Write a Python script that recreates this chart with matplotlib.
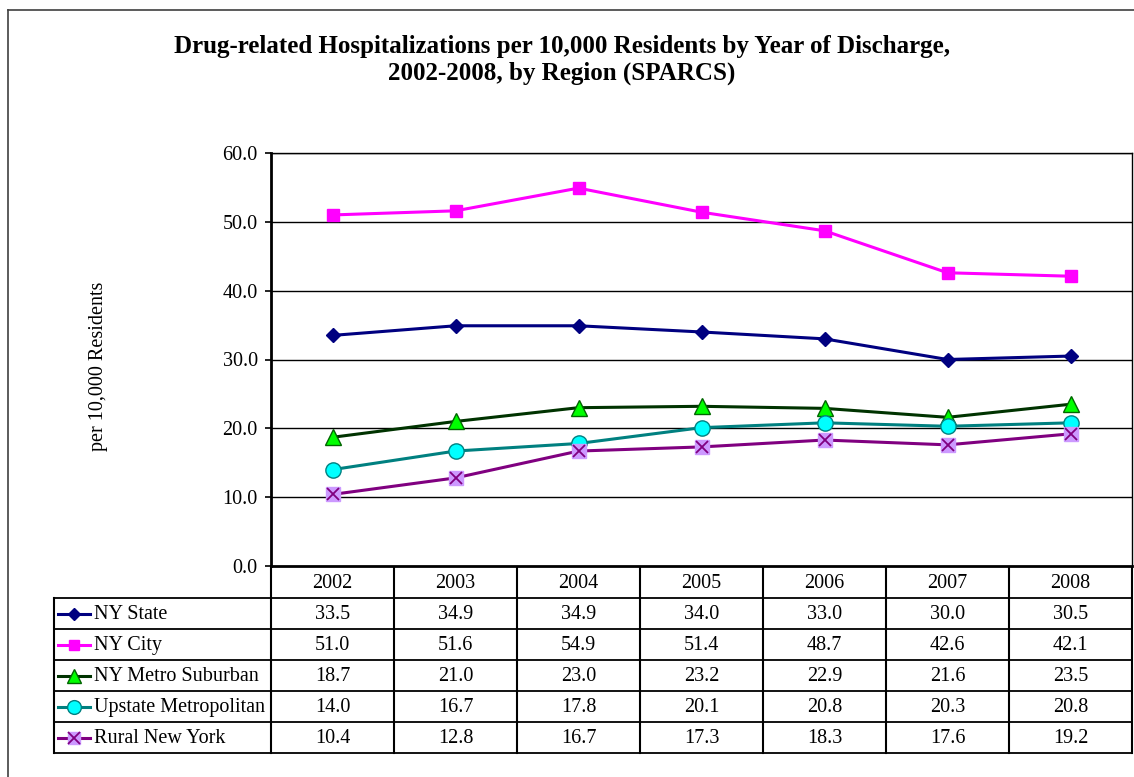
import matplotlib.pyplot as plt

plt.rcParams['font.family'] = ['Liberation Serif', 'DejaVu Serif']

years = ['2002', '2003', '2004', '2005', '2006', '2007', '2008']
ny_state = [33.5, 34.9, 34.9, 34.0, 33.0, 30.0, 30.5]
ny_city = [51.0, 51.6, 54.9, 51.4, 48.7, 42.6, 42.1]
ny_metro = [18.7, 21.0, 23.0, 23.2, 22.9, 21.6, 23.5]
upstate = [14.0, 16.7, 17.8, 20.1, 20.8, 20.3, 20.8]
rural = [10.4, 12.8, 16.7, 17.3, 18.3, 17.6, 19.2]
series_names = ['NY State', 'NY City', 'NY Metro Suburban',
                'Upstate Metropolitan', 'Rural New York']
y_ticks = [0, 10, 20, 30, 40, 50, 60]

series = [ny_state, ny_city, ny_metro, upstate, rural]
# line colour, marker, face colour, edge colour, marker size
styles = [
    ('#000080', 'D', '#000080', '#000080', 7),
    ('#FF00FF', 's', '#FF00FF', '#FF00FF', 8),
    ('#003300', '^', '#00FF00', '#006600', 11),
    ('#008080', 'o', '#00FFFF', '#008080', 11),
    ('#800080', 's', '#CC99FF', '#CC99FF', 10),
]

W, H = 1134, 777
fig = plt.figure(figsize=(W / 100, H / 100), dpi=100)
fs = 14.5

# pixel layout
px_left, px_right = 271, 1132
px_top, px_bottom = 153, 566
row_h = 31
head_h = 32
lab_left = 54

ax = fig.add_axes([px_left / W, 1 - px_bottom / H,
                   (px_right - px_left) / W, (px_bottom - px_top) / H])
x = list(range(len(years)))
for vals, (lc, mk, fc, ec, ms) in zip(series, styles):
    ax.plot(x, vals, color=lc, lw=2.2, marker=mk, markerfacecolor=fc,
            markeredgecolor=ec, markersize=ms, zorder=3, clip_on=False)
    if vals is rural:
        ax.plot(x, vals, ls='none', marker='x', color='#800080',
                markersize=9, mew=1.3, zorder=4, clip_on=False)

ax.set_xlim(-0.5, len(years) - 0.5)
ax.set_ylim(0, 60)
ax.set_yticks(y_ticks)
ax.set_yticklabels([f'{v:.1f}' for v in y_ticks], fontsize=fs)
ax.set_xticks([])
ax.tick_params(axis='y', direction='out', length=4.5, width=1.2, pad=5)
for v in y_ticks[1:]:
    ax.axhline(v, color='black', lw=1, zorder=1)
for s in ['top', 'right']:
    ax.spines[s].set_linewidth(1)
for s in ['left', 'bottom']:
    ax.spines[s].set_linewidth(2)
fig.text(98 / W, 1 - 366 / H, 'per 10,000 Residents', rotation=90,
         ha='center', va='center', fontsize=fs)

# overlay in pixel coordinates for table and border
ov = fig.add_axes([0, 0, 1, 1], zorder=-1)
ov.set_xlim(0, W)
ov.set_ylim(H, 0)
ov.axis('off')

ov.plot([8, 8], [10, H], color='#404040', lw=1.2)
ov.plot([8, W], [10, 10], color='#404040', lw=1.2)

col_w = (px_right - px_left) / len(years)
tab_top = px_bottom
tab_bot = px_bottom + head_h + row_h * len(series)
for i in range(len(years) + 1):
    xx = px_left + i * col_w
    ov.plot([xx, xx], [tab_top, tab_bot], color='black', lw=1.5)
ov.plot([lab_left, lab_left], [tab_top + head_h, tab_bot], color='black', lw=1.5)
for r in range(len(series) + 1):
    yy = tab_top + head_h + r * row_h
    ov.plot([lab_left, px_right], [yy, yy], color='black', lw=1.3)

for i, yr in enumerate(years):
    ov.text(px_left + (i + 0.5) * col_w, tab_top + head_h / 2 + 1, yr,
            ha='center', va='center', fontsize=fs)

for r, (vals, name, (lc, mk, fc, ec, ms)) in enumerate(zip(series, series_names, styles)):
    yc = tab_top + head_h + (r + 0.5) * row_h
    ov.plot([58, 90], [yc, yc], color=lc, lw=2.2)
    ov.plot([74], [yc], marker=mk, markerfacecolor=fc, markeredgecolor=ec,
            markersize=ms * 0.9, color=lc)
    if vals is rural:
        ov.plot([74], [yc], marker='x', color='#800080', markersize=8, mew=1.3)
    ov.text(94, yc + 1, name, ha='left', va='center', fontsize=fs)
    for i, v in enumerate(vals):
        ov.text(px_left + (i + 0.5) * col_w, yc + 1, f'{v:.1f}',
                ha='center', va='center', fontsize=fs)

fig.text(562 / W, 1 - 60 / H,
         'Drug-related Hospitalizations per 10,000 Residents by Year of Discharge,\n2002-2008, by Region (SPARCS)',
         ha='center', va='center', fontsize=18, fontweight='bold', linespacing=1.2)

fig.savefig('out.png', dpi=100)
